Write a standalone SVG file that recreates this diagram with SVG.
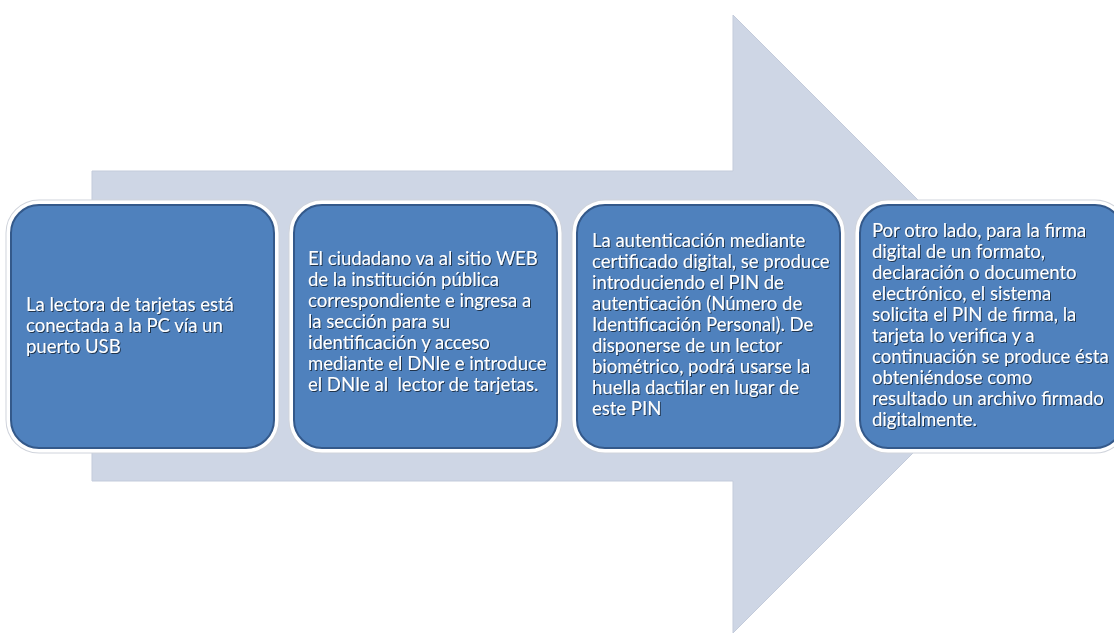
<svg xmlns="http://www.w3.org/2000/svg" width="1114" height="633" viewBox="0 0 1114 633">
  <defs>
    <style>
      .arrow { fill: #CED6E5; stroke: #C3CBDB; stroke-width: 1; }
      .halo { fill: none; stroke: #FFFFFF; stroke-width: 9; }
      .shade { fill: none; stroke: #D0D4DC; stroke-width: 11; }
      .box { fill: #4F81BD; stroke: #34598A; stroke-width: 2; }
      .txt { font-family: "Lato", "Liberation Sans", sans-serif; font-size: 18.5px; fill: #FFFFFF; white-space: pre; }
    </style>
    <filter id="ts" x="-5%" y="-5%" width="110%" height="110%">
      <feDropShadow dx="1" dy="1" stdDeviation="0.6" flood-color="#000000" flood-opacity="0.6"/>
    </filter>
  </defs>
  <rect width="1114" height="633" fill="#FFFFFF"/>
  <g id="connectors">
    <polygon class="arrow" points="92,171 733,171 733,15 1042,324 733,633 733,481 92,481"/>
  </g>
  <g id="node1">
    <rect class="shade" x="11" y="205" width="263" height="243" rx="28"/>
    <rect class="halo" x="11" y="205" width="263" height="243" rx="28"/>
    <rect class="box" x="11" y="205" width="263" height="243" rx="28"/>
    <text class="txt" filter="url(#ts)">
      <tspan x="26" y="311">La lectora de tarjetas está</tspan>
      <tspan x="26" y="332">conectada a la PC vía un</tspan>
      <tspan x="26" y="353">puerto USB</tspan>
    </text>
  </g>
  <g id="node2">
    <rect class="shade" x="294" y="205" width="263" height="243" rx="28"/>
    <rect class="halo" x="294" y="205" width="263" height="243" rx="28"/>
    <rect class="box" x="294" y="205" width="263" height="243" rx="28"/>
    <text class="txt" filter="url(#ts)">
      <tspan x="308" y="265">El ciudadano va al sitio WEB</tspan>
      <tspan x="308" y="286">de la institución pública</tspan>
      <tspan x="308" y="307">correspondiente e ingresa a</tspan>
      <tspan x="308" y="328">la sección para su</tspan>
      <tspan x="308" y="349">identificación y acceso</tspan>
      <tspan x="308" y="370">mediante el DNIe e introduce</tspan>
      <tspan x="308" y="391">el DNIe al  lector de tarjetas.</tspan>
    </text>
  </g>
  <g id="node3">
    <rect class="shade" x="577" y="205" width="263" height="243" rx="28"/>
    <rect class="halo" x="577" y="205" width="263" height="243" rx="28"/>
    <rect class="box" x="577" y="205" width="263" height="243" rx="28"/>
    <text class="txt" filter="url(#ts)">
      <tspan x="592" y="247">La autenticación mediante</tspan>
      <tspan x="592" y="268">certificado digital, se produce</tspan>
      <tspan x="592" y="289">introduciendo el PIN de</tspan>
      <tspan x="592" y="310">autenticación (Número de</tspan>
      <tspan x="592" y="331">Identificación Personal). De</tspan>
      <tspan x="592" y="352">disponerse de un lector</tspan>
      <tspan x="592" y="373">biométrico, podrá usarse la</tspan>
      <tspan x="592" y="394">huella dactilar en lugar de</tspan>
      <tspan x="592" y="415">este PIN</tspan>
    </text>
  </g>
  <g id="node4">
    <rect class="shade" x="860" y="205" width="263" height="243" rx="28"/>
    <rect class="halo" x="860" y="205" width="263" height="243" rx="28"/>
    <rect class="box" x="860" y="205" width="263" height="243" rx="28"/>
    <text class="txt" filter="url(#ts)">
      <tspan x="872" y="237">Por otro lado, para la firma</tspan>
      <tspan x="872" y="258">digital de un formato,</tspan>
      <tspan x="872" y="279">declaración o documento</tspan>
      <tspan x="872" y="300">electrónico, el sistema</tspan>
      <tspan x="872" y="321">solicita el PIN de firma, la</tspan>
      <tspan x="872" y="342">tarjeta lo verifica y a</tspan>
      <tspan x="872" y="363">continuación se produce ésta</tspan>
      <tspan x="872" y="384">obteniéndose como</tspan>
      <tspan x="872" y="405">resultado un archivo firmado</tspan>
      <tspan x="872" y="426">digitalmente.</tspan>
    </text>
  </g>
</svg>
